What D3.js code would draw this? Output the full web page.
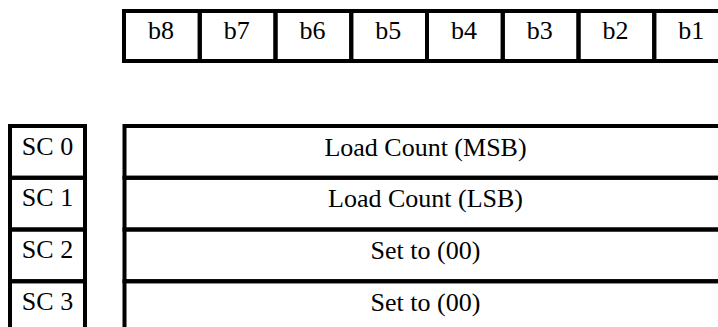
<!DOCTYPE html>
<html>
<head>
<meta charset="utf-8">
<script src="https://d3js.org/d3.v7.min.js"></script>
<style>
  html, body { margin: 0; padding: 0; background: #fff; }
  svg { display: block; }
  text { font-family: "Liberation Serif", "Times New Roman", serif; fill: #000; }
</style>
</head>
<body>
<script>
// Data
const bits = ["b8", "b7", "b6", "b5", "b4", "b3", "b2", "b1"];
const registers = ["SC 0", "SC 1", "SC 2", "SC 3"];
const contents = ["Load Count (MSB)", "Load Count (LSB)", "Set to (00)", "Set to (00)"];

const W = 718, H = 327;
const svg = d3.select("body").append("svg").attr("width", W).attr("height", H);

const sw = 4;
const fontSize = 26;

// Bit row
const xBits = d3.scaleBand().domain(bits).range([124, 730]);
const bitTop = 11, bitBottom = 61;

const gBits = svg.append("g");
gBits.selectAll("rect").data(bits).join("rect")
  .attr("x", d => xBits(d))
  .attr("y", bitTop)
  .attr("width", xBits.bandwidth())
  .attr("height", bitBottom - bitTop)
  .attr("fill", "none").attr("stroke", "#000").attr("stroke-width", sw);
gBits.selectAll("text").data(bits).join("text")
  .attr("x", d => xBits(d) + xBits.bandwidth() / 2 - 1)
  .attr("y", bitTop + 27.5)
  .attr("text-anchor", "middle")
  .attr("font-size", fontSize)
  .text(d => d);

// Register rows
const yRows = d3.scaleBand().domain(registers).range([126, 333]);

const gReg = svg.append("g");
gReg.selectAll("rect").data(registers).join("rect")
  .attr("x", 10)
  .attr("y", d => yRows(d))
  .attr("width", 75)
  .attr("height", yRows.bandwidth())
  .attr("fill", "none").attr("stroke", "#000").attr("stroke-width", sw);
gReg.selectAll("text").data(registers).join("text")
  .attr("x", 47.5)
  .attr("y", d => yRows(d) + 28.5)
  .attr("text-anchor", "middle")
  .attr("font-size", fontSize)
  .text(d => d);

const gCon = svg.append("g");
gCon.selectAll("rect").data(registers).join("rect")
  .attr("x", 124.5)
  .attr("y", d => yRows(d))
  .attr("width", 730 - 124.5)
  .attr("height", yRows.bandwidth())
  .attr("fill", "none").attr("stroke", "#000").attr("stroke-width", sw);
gCon.selectAll("text").data(contents).join("text")
  .attr("x", 425.5)
  .attr("y", (d, i) => yRows(registers[i]) + 29.5)
  .attr("text-anchor", "middle")
  .attr("font-size", fontSize)
  .text(d => d);
</script>
</body>
</html>
